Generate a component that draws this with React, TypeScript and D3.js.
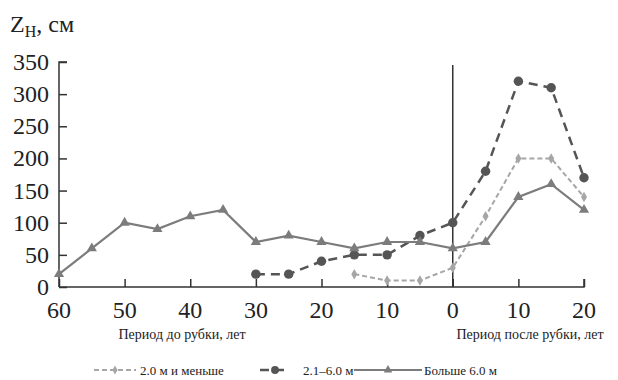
import { useEffect, useRef } from "react";
import * as d3 from "d3";

const years = [-60, -55, -50, -45, -40, -35, -30, -25, -20, -15, -10, -5, 0, 5, 10, 15, 20];
const bigValues = [20, 60, 100, 90, 110, 120, 70, 80, 70, 60, 70, 70, 60, 70, 140, 160, 120];

const midYears = [-30, -25, -20, -15, -10, -5, 0, 5, 10, 15, 20];
const midValues = [20, 20, 40, 50, 50, 80, 100, 180, 320, 310, 170];

const smallYears = [-15, -10, -5, 0, 5, 10, 15, 20];
const smallValues = [20, 10, 10, 30, 110, 200, 200, 140];

const xTicks = [-60, -50, -40, -30, -20, -10, 0, 10, 20];
const yTicks = [0, 50, 100, 150, 200, 250, 300, 350];

const legendNames = ["2.0 м и меньше", "2.1–6.0 м", "Больше 6.0 м"];

const App = () => {
  const ref = useRef(null);

  useEffect(() => {
    const svg = d3.select(ref.current).attr("width", 618).attr("height", 380);
    svg.selectAll("*").remove();

    const serif = "Liberation Serif";
    const x = d3.scaleLinear().domain([-60, 20]).range([59, 584]);
    const y = d3.scaleLinear().domain([0, 350]).range([287, 62]);

    // axes
    const yAxis = svg
      .append("g")
      .attr("transform", "translate(59,0)")
      .call(d3.axisRight(y).tickValues(yTicks).tickSize(8).tickFormat(() => ""));
    yAxis.select(".domain").attr("d", `M8,${y(350)}H0V${y(0)}`).attr("stroke", "#333").attr("stroke-width", 1.5);
    yAxis.selectAll(".tick line").attr("stroke", "#333").attr("stroke-width", 1.5);

    svg
      .append("g")
      .selectAll("text")
      .data(yTicks)
      .enter()
      .append("text")
      .attr("x", 49)
      .attr("y", (d) => y(d) + 8)
      .attr("text-anchor", "end")
      .attr("font-family", serif)
      .attr("font-size", 24)
      .attr("fill", "#222")
      .text((d) => d);

    const xAxis = svg
      .append("g")
      .attr("transform", "translate(0,287)")
      .call(d3.axisTop(x).tickValues(xTicks).tickSize(8).tickFormat(() => ""));
    xAxis.select(".domain").attr("d", `M${x(-60)},0H${x(20)}V-8`).attr("stroke", "#333").attr("stroke-width", 1.5);
    xAxis.selectAll(".tick line").attr("stroke", "#333").attr("stroke-width", 1.5);

    svg
      .append("g")
      .selectAll("text")
      .data(xTicks)
      .enter()
      .append("text")
      .attr("x", (d) => x(d))
      .attr("y", 318)
      .attr("text-anchor", "middle")
      .attr("font-family", serif)
      .attr("font-size", 24)
      .attr("fill", "#222")
      .text((d) => Math.abs(d));

    // cut line
    svg
      .append("line")
      .attr("x1", x(0))
      .attr("x2", x(0))
      .attr("y1", 65)
      .attr("y2", y(0))
      .attr("stroke", "#333")
      .attr("stroke-width", 1.5);

    // title
    const title = svg
      .append("text")
      .attr("x", 10)
      .attr("y", 32)
      .attr("font-family", serif)
      .attr("font-size", 24)
      .attr("fill", "#222");
    title.append("tspan").text("Z");
    title.append("tspan").attr("dy", 5).attr("font-size", 16).text("H");
    title.append("tspan").attr("dy", -5).text(", см");

    svg
      .append("text")
      .attr("x", 182)
      .attr("y", 339)
      .attr("text-anchor", "middle")
      .attr("font-family", serif)
      .attr("font-size", 14)
      .attr("fill", "#222")
      .text("Период до рубки, лет");
    svg
      .append("text")
      .attr("x", 530)
      .attr("y", 339)
      .attr("text-anchor", "middle")
      .attr("font-family", serif)
      .attr("font-size", 14)
      .attr("fill", "#222")
      .text("Период после рубки, лет");

    const line = d3
      .line()
      .x((d) => x(d[0]))
      .y((d) => y(d[1]));

    const series = [
      { xs: smallYears, vs: smallValues, color: "#a6a6a6", dash: "5,3", width: 2, shape: d3.symbolDiamond, size: 32 },
      { xs: midYears, vs: midValues, color: "#555555", dash: "9,6", width: 2.5, shape: d3.symbolCircle, size: 70 },
      { xs: years, vs: bigValues, color: "#7c7c7c", dash: null, width: 2.2, shape: d3.symbolTriangle, size: 45 },
    ];

    series.forEach((s) => {
      const pts = s.xs.map((v, i) => [v, s.vs[i]]);
      svg
        .append("path")
        .datum(pts)
        .attr("d", line)
        .attr("fill", "none")
        .attr("stroke", s.color)
        .attr("stroke-width", s.width)
        .attr("stroke-dasharray", s.dash);
      svg
        .append("g")
        .selectAll("path")
        .data(pts)
        .enter()
        .append("path")
        .attr("transform", (d) => `translate(${x(d[0])},${y(d[1])})`)
        .attr("d", d3.symbol().type(s.shape).size(s.size)())
        .attr("fill", s.color);
    });

    // legend
    const legendX = [94, 260, 354];
    const legendLen = [42, 30, 68];
    const textX = [140, 303, 424];
    const ly = 370;
    series.forEach((s, i) => {
      const g = svg.append("g");
      g.append("line")
        .attr("x1", legendX[i])
        .attr("x2", legendX[i] + legendLen[i])
        .attr("y1", ly)
        .attr("y2", ly)
        .attr("stroke", s.color)
        .attr("stroke-width", s.width)
        .attr("stroke-dasharray", s.dash);
      g.append("path")
        .attr("transform", `translate(${legendX[i] + legendLen[i] / 2},${ly})`)
        .attr("d", d3.symbol().type(s.shape).size(s.size * 0.7)())
        .attr("fill", s.color);
      g.append("text")
        .attr("x", textX[i])
        .attr("y", ly + 4.5)
        .attr("font-family", serif)
        .attr("font-size", 13)
        .attr("fill", "#222")
        .text(legendNames[i]);
    });
  }, []);

  return (
    <div style={{ position: "absolute", left: 0, top: 0 }}>
      <svg ref={ref}></svg>
    </div>
  );
};

export default App;
